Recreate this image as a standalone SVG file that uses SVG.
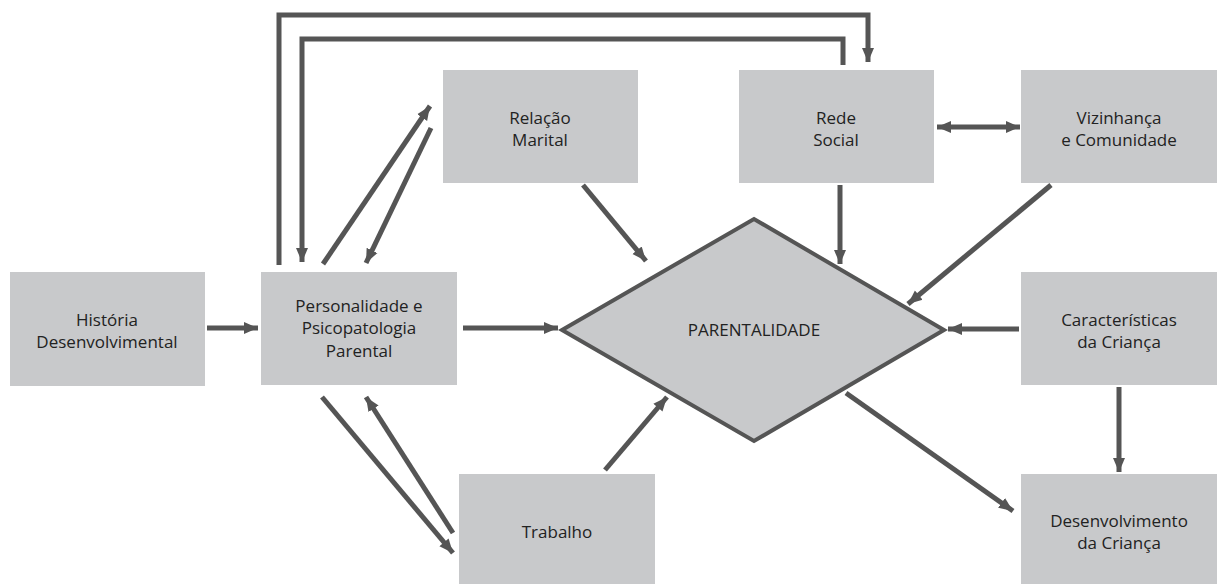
<svg xmlns="http://www.w3.org/2000/svg" width="1217" height="584" viewBox="0 0 1217 584">
<style>
.box{fill:#c8c9cb}
.dia{fill:#c8c9cb;stroke:#555;stroke-width:4;stroke-linejoin:miter}
.t{font-family:"Open Sans","Noto Sans",sans-serif;font-size:17px;fill:#222;text-anchor:middle}
.c{fill:none;stroke:#555;stroke-width:5}
.a{marker-end:url(#ah)}
.b{marker-start:url(#ahs);marker-end:url(#ah)}
</style>
<defs>
<marker id="ah" markerUnits="userSpaceOnUse" markerWidth="16" markerHeight="16" viewBox="0 0 16 16" refX="14" refY="8" orient="auto">
<path d="M0,2 L14,8 L0,14 Z" fill="#555"/>
</marker>
<marker id="ahs" markerUnits="userSpaceOnUse" markerWidth="16" markerHeight="16" viewBox="0 0 16 16" refX="2" refY="8" orient="auto">
<path d="M16,2 L2,8 L16,14 Z" fill="#555"/>
</marker>
</defs>
<rect width="1217" height="584" fill="#fff"/>
<g id="historia"><rect class="box" x="10" y="272" width="195" height="114"/><text class="t" x="107" y="326">História</text><text class="t" x="107" y="348">Desenvolvimental</text></g>
<g id="personalidade"><rect class="box" x="261" y="272" width="196" height="113"/><text class="t" x="359" y="312">Personalidade e</text><text class="t" x="359" y="334">Psicopatologia</text><text class="t" x="359" y="357">Parental</text></g>
<g id="relacao"><rect class="box" x="443" y="70" width="195" height="113"/><text class="t" x="540" y="124">Relação</text><text class="t" x="540" y="146">Marital</text></g>
<g id="rede"><rect class="box" x="739" y="70" width="195" height="113"/><text class="t" x="836" y="124">Rede</text><text class="t" x="836" y="146">Social</text></g>
<g id="vizinhanca"><rect class="box" x="1021" y="70" width="196" height="113"/><text class="t" x="1119" y="124">Vizinhança</text><text class="t" x="1119" y="146">e Comunidade</text></g>
<g id="caracteristicas"><rect class="box" x="1021" y="272" width="196" height="113"/><text class="t" x="1119" y="326">Características</text><text class="t" x="1119" y="348">da Criança</text></g>
<g id="desenvolvimento"><rect class="box" x="1021" y="474" width="196" height="110"/><text class="t" x="1119" y="527">Desenvolvimento</text><text class="t" x="1119" y="549">da Criança</text></g>
<g id="trabalho"><rect class="box" x="459" y="474" width="196" height="110"/><text class="t" x="557" y="538">Trabalho</text></g>
<g id="parentalidade"><polygon class="dia" points="562,330 754,219 944,330 754,441"/><text class="t" x="754" y="336">PARENTALIDADE</text></g>
<g id="connectors">
<path class="c a" d="M279,265 V15 H868 V62"/>
<path class="c a" d="M843,65 V39 H302 V262"/>
<line class="c a" x1="207" y1="328" x2="258" y2="328"/>
<line class="c a" x1="463" y1="328" x2="558" y2="328"/>
<line class="c a" x1="1019" y1="329" x2="948" y2="329"/>
<line class="c b" x1="937" y1="127" x2="1020" y2="127"/>
<line class="c a" x1="840" y1="185" x2="840" y2="264"/>
<line class="c a" x1="583" y1="185" x2="646" y2="261"/>
<line class="c a" x1="1051" y1="185" x2="908" y2="304"/>
<line class="c a" x1="605" y1="470" x2="667" y2="397"/>
<line class="c a" x1="846" y1="393" x2="1013" y2="511"/>
<line class="c a" x1="1119" y1="387" x2="1119" y2="472"/>
<line class="c a" x1="323" y1="264" x2="430" y2="106"/>
<line class="c a" x1="431" y1="128" x2="366" y2="263"/>
<line class="c a" x1="322" y1="397" x2="453" y2="553"/>
<line class="c a" x1="453" y1="533" x2="366" y2="397"/>
</g>
</svg>
